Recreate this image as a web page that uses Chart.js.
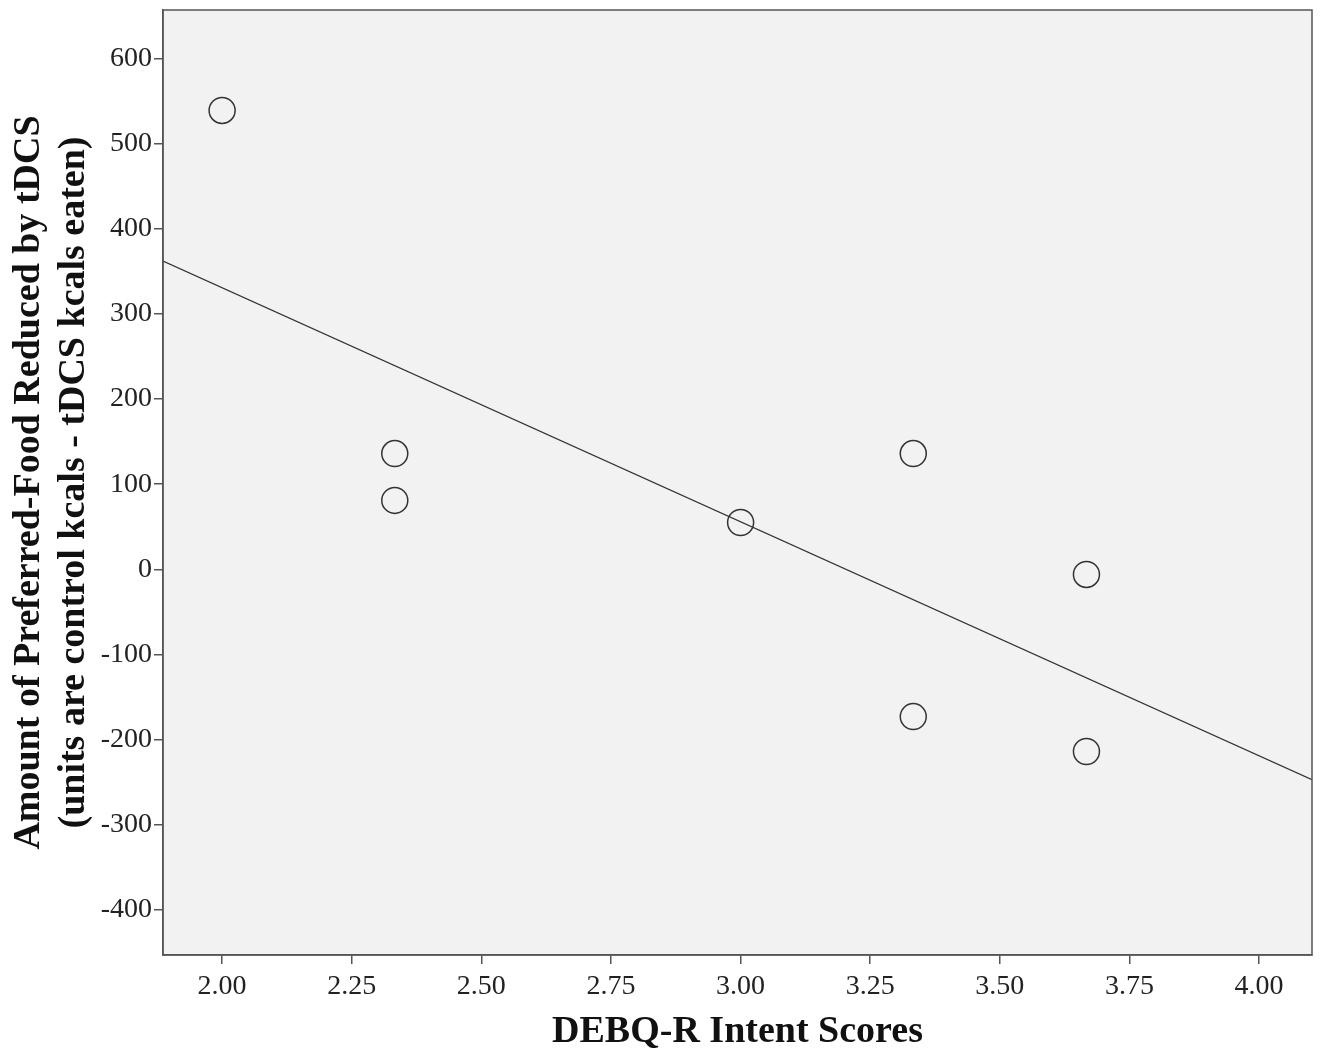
<!DOCTYPE html>
<html>
<head>
<meta charset="utf-8">
<script src="https://cdn.jsdelivr.net/npm/chart.js@4.4.1/dist/chart.umd.min.js"></script>
<style>
  html, body { margin: 0; padding: 0; background: #fff; }
  #wrap { width: 1321px; height: 1055px; }
</style>
</head>
<body>
<div id="wrap"><canvas id="chart"></canvas></div>
<script>
// DEBQ-R intent scores vs. preferred-food kcal reduced by tDCS
const intentScores = [2.00, 2.333, 2.333, 3.00, 3.333, 3.333, 3.667, 3.667];
const kcalReduced  = [539, 136, 81, 55, 136, -173, -6, -214];

// fit line as drawn in the figure (ends at the plot edges)
const fitX = [1.886, 4.102];
const fitY = [362, -247];

const xTicks = [2.00, 2.25, 2.50, 2.75, 3.00, 3.25, 3.50, 3.75, 4.00];
const yTicks = [600, 500, 400, 300, 200, 100, 0, -100, -200, -300, -400];

const serif = '"Liberation Serif", "Times New Roman", serif';
const axisColor = '#555';

const plotFrame = {
    id: 'plotFrame',
    beforeDraw(chart) {
        const a = chart.chartArea, ctx = chart.ctx;
        ctx.save();
        ctx.fillStyle = '#f2f2f2';
        ctx.fillRect(a.left, a.top, a.right - a.left, a.bottom - a.top);
        ctx.restore();
    },
    afterDraw(chart) {
        const a = chart.chartArea, ctx = chart.ctx;
        ctx.save();
        ctx.strokeStyle = axisColor;
        ctx.lineWidth = 1.5;
        ctx.strokeRect(a.left, a.top, a.right - a.left, a.bottom - a.top);
        ctx.restore();
    }
};

new Chart(document.getElementById('chart'), {
    type: 'scatter',
    data: {
        datasets: [
            {
                label: 'Fit',
                type: 'line',
                data: fitX.map((x, i) => ({ x: x, y: fitY[i] })),
                borderColor: '#333',
                borderWidth: 1.2,
                pointRadius: 0,
                fill: false
            },
            {
                label: 'Participants',
                data: intentScores.map((x, i) => ({ x: x, y: kcalReduced[i] })),
                pointStyle: 'circle',
                pointRadius: 13,
                pointHoverRadius: 13,
                backgroundColor: 'rgba(0,0,0,0)',
                borderColor: '#333',
                borderWidth: 1.5
            }
        ]
    },
    options: {
        responsive: true,
        maintainAspectRatio: false,
        animation: false,
        layout: { autoPadding: false, padding: { top: 10, right: 9, left: 0, bottom: 0 } },
        plugins: {
            legend: { display: false },
            tooltip: { enabled: false }
        },
        scales: {
            x: {
                type: 'linear',
                min: 1.886,
                max: 4.102,
                afterBuildTicks: s => { s.ticks = xTicks.map(v => ({ value: v })); },
                afterFit: s => { s.height = 100; s.paddingLeft = 0; s.paddingRight = 0; },
                grid: { drawOnChartArea: false, drawTicks: true, tickLength: 9, color: axisColor, lineWidth: 1.5 },
                border: { display: true, color: axisColor, width: 1.5 },
                ticks: {
                    color: '#222',
                    font: { family: serif, size: 28 },
                    padding: 6,
                    maxRotation: 0,
                    callback: v => v.toFixed(2)
                },
                title: {
                    display: true,
                    text: 'DEBQ-R Intent Scores',
                    color: '#111',
                    font: { family: serif, size: 38, weight: 'bold' },
                    padding: { top: 2, bottom: 0 }
                }
            },
            y: {
                type: 'linear',
                min: -453,
                max: 657,
                afterBuildTicks: s => { s.ticks = yTicks.map(v => ({ value: v })); },
                afterFit: s => { s.width = 163; s.paddingTop = 0; s.paddingBottom = 0; },
                grid: { drawOnChartArea: false, drawTicks: true, tickLength: 9, color: axisColor, lineWidth: 1.5 },
                border: { display: true, color: axisColor, width: 1.5 },
                ticks: {
                    color: '#222',
                    font: { family: serif, size: 28 },
                    padding: 2,
                    callback: v => String(v)
                },
                title: {
                    display: true,
                    text: ['Amount of Preferred-Food Reduced by tDCS', '(units are control kcals - tDCS kcals eaten)'],
                    color: '#111',
                    font: { family: serif, size: 38, weight: 'bold', lineHeight: 1.2 },
                    padding: { top: 6, bottom: 0 }
                }
            }
        }
    },
    plugins: [plotFrame]
});
</script>
</body>
</html>
